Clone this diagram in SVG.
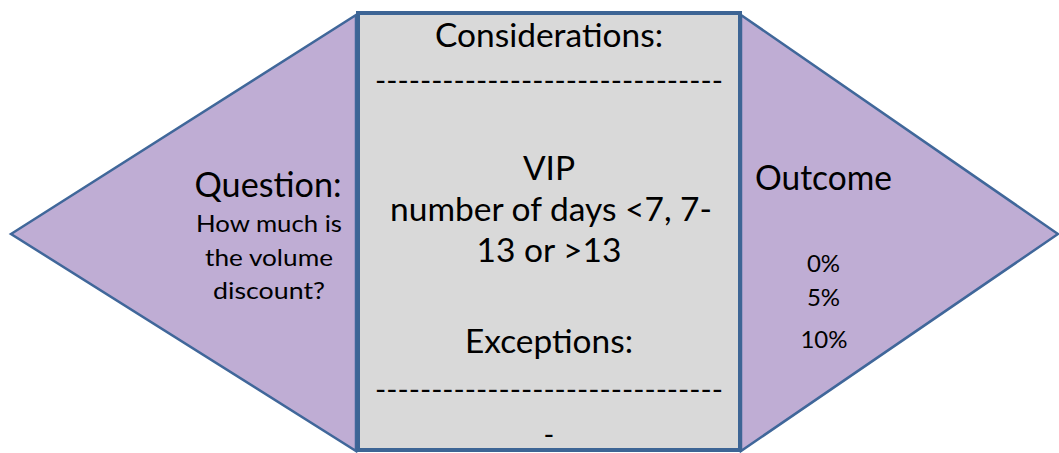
<svg xmlns="http://www.w3.org/2000/svg" width="1059" height="453" viewBox="0 0 1059 453">
<style>
.tri{fill:#bfadd4;stroke:#40679a;stroke-width:2.5;stroke-linejoin:miter}
.box{fill:#d9d9d9;stroke:#3d6595;stroke-width:4}
text{font-family:Lato,"Liberation Sans",sans-serif;fill:#000;text-anchor:middle}
.big{font-size:33.5px}
.hd{font-size:34px}
.dash{font-size:29px}
.mid{font-size:23.5px}
.sm{font-size:24px}
</style>
<g id="connectors"></g>
<g id="question">
<polygon class="tri" points="11,234 356,15 356,451"/>
<text class="hd" x="268" y="197" textLength="147" lengthAdjust="spacingAndGlyphs">Question:</text>
<text class="mid" x="269" y="232" textLength="146" lengthAdjust="spacingAndGlyphs">How much is</text>
<text class="mid" x="269" y="266" textLength="128" lengthAdjust="spacingAndGlyphs">the volume</text>
<text class="mid" x="269" y="299" textLength="112" lengthAdjust="spacingAndGlyphs">discount?</text>
</g>
<g id="outcome">
<polygon class="tri" points="741,15 1058,234 741,451"/>
<text class="hd" x="823.5" y="190" textLength="137" lengthAdjust="spacingAndGlyphs">Outcome</text>
<text class="sm" x="823.5" y="272">0%</text>
<text class="sm" x="823.5" y="306">5%</text>
<text class="sm" x="824" y="348">10%</text>
</g>
<g id="considerations">
<rect class="box" x="358" y="13" width="382" height="437"/>
<text class="big" x="549" y="47" textLength="228" lengthAdjust="spacingAndGlyphs">Considerations:</text>
<text class="dash" x="549" y="91" textLength="348" lengthAdjust="spacingAndGlyphs">-------------------------------</text>
<text class="big" x="549" y="180">VIP</text>
<text class="big" x="551" y="221" textLength="322" lengthAdjust="spacingAndGlyphs">number of days &lt;7, 7-</text>
<text class="big" x="549" y="262">13 or &gt;13</text>
<text class="big" x="549" y="353" textLength="168" lengthAdjust="spacingAndGlyphs">Exceptions:</text>
<text class="dash" x="549" y="400" textLength="348" lengthAdjust="spacingAndGlyphs">-------------------------------</text>
<text class="dash" x="549" y="445">-</text>
</g>
</svg>
